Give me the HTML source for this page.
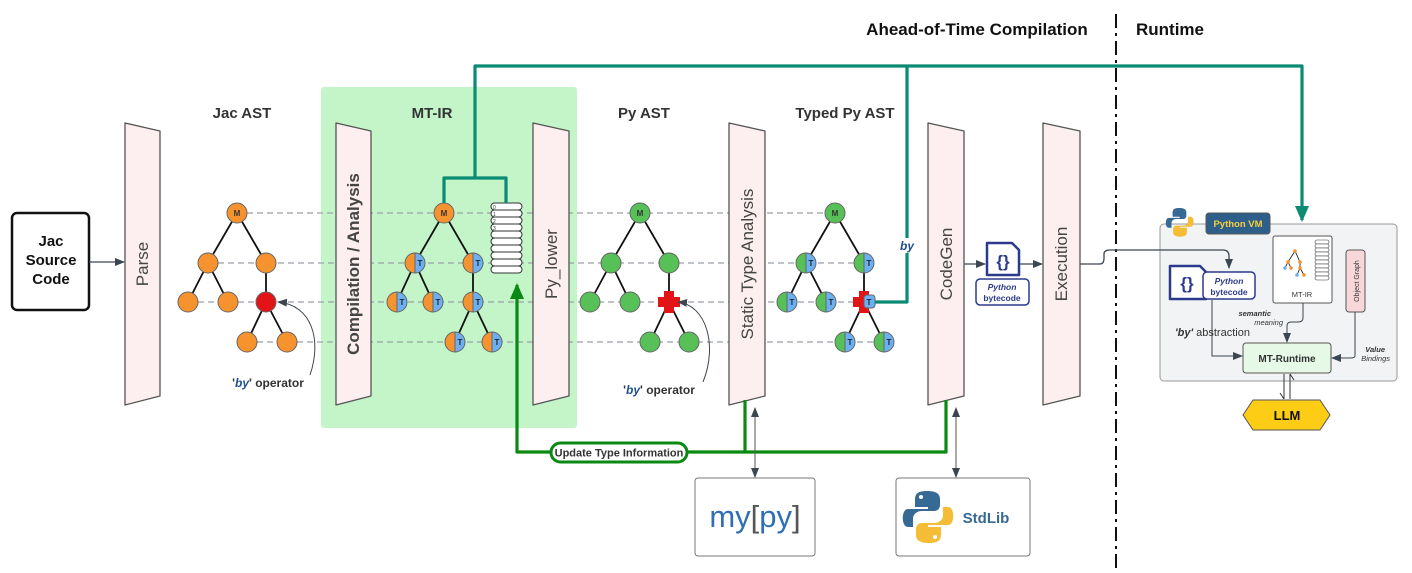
<!DOCTYPE html>
<html><head><meta charset="utf-8"><style>
html,body{margin:0;padding:0;background:#fff}
svg{display:block}
text{font-family:"Liberation Sans",sans-serif}
</style></head><body>
<svg width="1412" height="573" viewBox="0 0 1412 573" xmlns="http://www.w3.org/2000/svg">
<defs>
<marker id="ah" markerWidth="10" markerHeight="8" refX="9" refY="4" orient="auto" markerUnits="userSpaceOnUse"><path d="M0,0L10,4L0,8z" fill="#3c4650"/></marker>
<marker id="ahs" markerWidth="10" markerHeight="8" refX="9" refY="4" orient="auto-start-reverse" markerUnits="userSpaceOnUse"><path d="M0,0L10,4L0,8z" fill="#3c4650"/></marker>
<marker id="ahg" markerWidth="16" markerHeight="14" refX="14" refY="7" orient="auto" markerUnits="userSpaceOnUse"><path d="M0,0L16,7L0,14z" fill="#0a8a12"/></marker>
<marker id="aht" markerWidth="16" markerHeight="14" refX="14" refY="7" orient="auto" markerUnits="userSpaceOnUse"><path d="M0,0L16,7L0,14z" fill="#0b8a74"/></marker>
</defs>

<!-- green region -->
<rect x="321" y="87" width="256" height="341" rx="3" fill="#c3f5c8"/>

<!-- dashed lines -->
<g stroke="#9aa0a8" stroke-width="1.3" stroke-dasharray="6,4">
<line x1="247" y1="213" x2="830" y2="213"/>
<line x1="218" y1="263" x2="860" y2="263"/>
<line x1="188" y1="302" x2="860" y2="302"/>
<line x1="257" y1="342" x2="880" y2="342"/>
</g>

<!-- panels -->
<g fill="#fdefef" stroke="#555" stroke-width="1.3" stroke-linejoin="round">
<path d="M125,123 L160,131 L160,396 L125,405 Z"/>
<path d="M336,123 L371,131 L371,396 L336,405 Z"/>
<path d="M533,123 L569,131 L569,396 L533,405 Z"/>
<path d="M729,123 L765,131 L765,396 L729,405 Z"/>
<path d="M928,123 L964,131 L964,396 L928,405 Z"/>
<path d="M1043,123 L1080,131 L1080,396 L1043,405 Z"/>
</g>
<g fill="#444" font-size="17">
<text transform="translate(148,264) rotate(-90)" text-anchor="middle">Parse</text>
<text transform="translate(359,264) rotate(-90)" text-anchor="middle" font-weight="bold">Compilation / Analysis</text>
<text transform="translate(557,264) rotate(-90)" text-anchor="middle">Py_lower</text>
<text transform="translate(753,264) rotate(-90)" text-anchor="middle">Static Type Analysis</text>
<text transform="translate(952,264) rotate(-90)" text-anchor="middle">CodeGen</text>
<text transform="translate(1067,264) rotate(-90)" text-anchor="middle">Execution</text>
</g>

<!-- headers -->
<g font-weight="bold" fill="#333" font-size="15" text-anchor="middle">
<text x="242" y="118">Jac AST</text>
<text x="432" y="118">MT-IR</text>
<text x="644" y="118">Py AST</text>
<text x="845" y="118">Typed Py AST</text>
<text x="977" y="35" font-size="17" fill="#111">Ahead-of-Time Compilation</text>
<text x="1170" y="35" font-size="17" fill="#111">Runtime</text>
</g>
<line x1="1116" y1="14" x2="1116" y2="573" stroke="#111" stroke-width="2" stroke-dasharray="14,5,3,5"/>

<!-- Jac source -->
<rect x="12" y="213" width="77" height="97" rx="5" fill="#fff" stroke="#111" stroke-width="2.5"/>
<g font-weight="bold" font-size="15" text-anchor="middle" fill="#111">
<text x="51" y="246">Jac</text><text x="51" y="265">Source</text><text x="51" y="284">Code</text></g>
<line x1="89" y1="262" x2="124" y2="262" stroke="#3c4650" stroke-width="1.3" marker-end="url(#ah)"/>

<!-- tree edges -->
<g stroke="#111" stroke-width="1.8" fill="none">
<path d="M237,213L208,263M237,213L266,263M208,263L188,302M208,263L228,302M266,263L266,302M266,302L247,342M266,302L287,342"/>
<path d="M444,213L415,263M444,213L473,263M415,263L397,302M415,263L433,302M473,263L473,302M473,302L455,342M473,302L492,342"/>
<path d="M640,213L611,263M640,213L669,263M611,263L590,302M611,263L630,302M669,263L669,302M669,302L650,342M669,302L689,342"/>
<path d="M835,213L806,263M835,213L864,263M806,263L787,302M806,263L826,302M864,263L864,302M864,302L845,342M864,302L884,342"/>
</g>
<!-- Jac AST nodes -->
<g stroke="#666" stroke-width="1" fill="#f7932e">
<circle cx="237" cy="213" r="10"/><circle cx="208" cy="263" r="10"/><circle cx="266" cy="263" r="10"/>
<circle cx="188" cy="302" r="10"/><circle cx="228" cy="302" r="10"/><circle cx="266" cy="302" r="10" fill="#e31416"/>
<circle cx="247" cy="342" r="10"/><circle cx="287" cy="342" r="10"/>
<circle cx="444" cy="213" r="10"/>
</g>
<!-- Py AST nodes -->
<g stroke="#666" stroke-width="1" fill="#57c157">
<circle cx="640" cy="213" r="10"/><circle cx="611" cy="263" r="10"/><circle cx="669" cy="263" r="10"/>
<circle cx="590" cy="302" r="10"/><circle cx="630" cy="302" r="10"/>
<circle cx="650" cy="342" r="10"/><circle cx="689" cy="342" r="10"/>
<circle cx="835" cy="213" r="10"/>
</g>
<!-- red crosses -->
<g fill="#e31416">
<path d="M664,291h10v6h6v10h-6v6h-10v-6h-6v-10h6z"/>
<path d="M859,291h10v6h6v10h-6v6h-10v-6h-6v-10h6z"/>
</g>
<g font-size="8" font-weight="bold" fill="#333" text-anchor="middle">
<text x="237" y="216">M</text><text x="444" y="216">M</text><text x="640" y="216">M</text><text x="835" y="216">M</text>
</g>
<!-- half nodes orange/blue -->
<g id="halfs" stroke="#666" stroke-width="1">
<g fill="#f7932e">
<path d="M415,253a10,10 0 0 0 0,20z"/><path d="M473,253a10,10 0 0 0 0,20z"/>
<path d="M397,292a10,10 0 0 0 0,20z"/><path d="M433,292a10,10 0 0 0 0,20z"/><path d="M473,292a10,10 0 0 0 0,20z"/>
<path d="M455,332a10,10 0 0 0 0,20z"/><path d="M492,332a10,10 0 0 0 0,20z"/>
</g>
<g fill="#57c157">
<path d="M806,253a10,10 0 0 0 0,20z"/><path d="M864,253a10,10 0 0 0 0,20z"/>
<path d="M787,292a10,10 0 0 0 0,20z"/><path d="M826,292a10,10 0 0 0 0,20z"/>
<path d="M845,332a10,10 0 0 0 0,20z"/><path d="M884,332a10,10 0 0 0 0,20z"/>
</g>
<g fill="#6cb0f2">
<path d="M415,253a10,10 0 0 1 0,20z"/><path d="M473,253a10,10 0 0 1 0,20z"/>
<path d="M397,292a10,10 0 0 1 0,20z"/><path d="M433,292a10,10 0 0 1 0,20z"/><path d="M473,292a10,10 0 0 1 0,20z"/>
<path d="M455,332a10,10 0 0 1 0,20z"/><path d="M492,332a10,10 0 0 1 0,20z"/>
<path d="M806,253a10,10 0 0 1 0,20z"/><path d="M864,253a10,10 0 0 1 0,20z"/>
<path d="M787,292a10,10 0 0 1 0,20z"/><path d="M826,292a10,10 0 0 1 0,20z"/>
<path d="M845,332a10,10 0 0 1 0,20z"/><path d="M884,332a10,10 0 0 1 0,20z"/>
<rect x="864" y="295" width="11" height="13" rx="3"/>
</g>
</g>
<g font-size="8" font-weight="bold" fill="#223" text-anchor="middle">
<text x="420" y="266">T</text><text x="478" y="266">T</text><text x="402" y="305">T</text><text x="438" y="305">T</text><text x="478" y="305">T</text><text x="460" y="345">T</text><text x="497" y="345">T</text>
<text x="811" y="266">T</text><text x="869" y="266">T</text><text x="792" y="305">T</text><text x="831" y="305">T</text><text x="869" y="305">T</text><text x="850" y="345">T</text><text x="889" y="345">T</text>
</g>

<!-- MT-IR list -->
<g fill="#fff" stroke="#333" stroke-width="1">
<rect x="491" y="203" width="31" height="7" rx="3.5"/><rect x="491" y="210" width="31" height="7" rx="3.5"/>
<rect x="491" y="217" width="31" height="7" rx="3.5"/><rect x="491" y="224" width="31" height="7" rx="3.5"/>
<rect x="491" y="231" width="31" height="7" rx="3.5"/><rect x="491" y="238" width="31" height="7" rx="3.5"/>
<rect x="491" y="245" width="31" height="7" rx="3.5"/><rect x="491" y="252" width="31" height="7" rx="3.5"/>
<rect x="491" y="259" width="31" height="7" rx="3.5"/><rect x="491" y="266" width="31" height="7" rx="3.5"/>
</g>
<g font-size="5" fill="#333"><text x="493" y="209">0</text><text x="493" y="216">1</text><text x="493" y="223">2</text><text x="493" y="230">3</text></g>

<!-- by operator labels -->
<text x="268" y="387" font-size="12" font-weight="bold" fill="#333" text-anchor="middle"><tspan fill="#333">'</tspan><tspan fill="#1d4f91" font-style="italic">by</tspan>' operator</text>
<text x="659" y="394" font-size="12" font-weight="bold" fill="#333" text-anchor="middle">'<tspan fill="#1d4f91" font-style="italic">by</tspan>' operator</text>
<path d="M310,375 C322,340 312,305 278,302" fill="none" stroke="#3c4650" stroke-width="1" marker-end="url(#ah)"/>
<path d="M703,382 C718,345 706,305 678,302" fill="none" stroke="#3c4650" stroke-width="1" marker-end="url(#ah)"/>

<!-- teal lines -->
<g fill="none" stroke="#0b8a74" stroke-width="3.2" stroke-linejoin="round">
<path d="M444,203 V178 H506 V203"/>
<path d="M475,178 V66 H1302 V220" marker-end="url(#aht)"/>
<path d="M907,66 V302 H875"/>
</g>
<rect x="898" y="238" width="18" height="15" fill="#fff"/>
<text x="907" y="250" font-size="12" font-weight="bold" font-style="italic" fill="#1d4f91" text-anchor="middle">by</text>

<!-- green update lines -->
<g fill="none" stroke="#0a8a12" stroke-width="3.2" stroke-linejoin="round">
<path d="M946,400 V452 H517 V285" marker-end="url(#ahg)"/>
<path d="M745,400 V452"/>
</g>
<rect x="551" y="443" width="136" height="19" rx="9.5" fill="#fff" stroke="#0a8a12" stroke-width="3"/>
<text x="619" y="456.5" font-size="11" font-weight="bold" fill="#333" text-anchor="middle">Update Type Information</text>

<!-- double arrows to mypy/stdlib -->
<line x1="755" y1="408" x2="755" y2="477" stroke="#555" stroke-width="1" marker-start="url(#ahs)" marker-end="url(#ahs)"/>
<line x1="956" y1="408" x2="956" y2="477" stroke="#555" stroke-width="1" marker-start="url(#ahs)" marker-end="url(#ahs)"/>
<rect x="695" y="478" width="120" height="78" rx="3" fill="#fff" stroke="#777" stroke-width="1"/>
<text x="755" y="527" font-size="31" fill="#2e6fb7" text-anchor="middle">my<tspan fill="#555">[</tspan>py<tspan fill="#555">]</tspan></text>
<rect x="896" y="478" width="134" height="78" rx="3" fill="#fff" stroke="#777" stroke-width="1"/>
<g transform="translate(903,491)">
<path d="M24,0 C12,0 12,5 12,10 V16 H25 V18 H5 C-2,18 -2,36 5,36 H10 V28 C10,23 14,20 19,20 H31 C35,20 37,17 37,14 V8 C37,2 32,0 24,0z" fill="#366994"/>
<path d="M26,52 C38,52 38,47 38,42 V36 H25 V34 H45 C52,34 52,16 45,16 H40 V24 C40,29 36,32 31,32 H19 C15,32 13,35 13,38 V44 C13,50 18,52 26,52z" fill="#f4bd35"/>
<circle cx="18" cy="6" r="2" fill="#fff"/><circle cx="32" cy="46" r="2" fill="#fff"/>
</g>
<text x="986" y="523" font-size="15" font-weight="bold" fill="#366994" text-anchor="middle">StdLib</text>

<!-- bytecode icon -->
<line x1="964" y1="264" x2="985" y2="264" stroke="#3c4650" stroke-width="1.3" marker-end="url(#ah)"/>
<line x1="1020" y1="264" x2="1042" y2="264" stroke="#3c4650" stroke-width="1.3" marker-end="url(#ah)"/>
<path d="M987,243 H1012 L1019,250 V275 H987 Z" fill="#fff" stroke="#2b3a8c" stroke-width="2.5" stroke-linejoin="round"/>
<text x="1003" y="267" font-size="17" font-weight="bold" fill="#2b3a8c" text-anchor="middle" font-family="Liberation Mono">{}</text>
<rect x="976" y="279" width="53" height="26" rx="4" fill="#fff" stroke="#2b3a8c" stroke-width="1.5"/>
<text x="1002" y="290" font-size="8.5" font-style="italic" font-weight="bold" fill="#2b3a8c" text-anchor="middle" font-family="Liberation Mono">Python</text>
<text x="1002" y="301" font-size="8.5" font-weight="bold" fill="#2b3a8c" text-anchor="middle" font-family="Liberation Mono">bytecode</text>

<!-- runtime -->
<rect x="1160" y="224" width="237" height="157" rx="4" fill="#f2f3f5" stroke="#999" stroke-width="1"/>
<path d="M1080,264 H1100 Q1104,264 1104,258 V254 Q1104,250 1110,250 H1223 Q1229,250 1229,256 V268" fill="none" stroke="#3c4650" stroke-width="1.3" marker-end="url(#ah)"/>
<g transform="translate(1166,208) scale(0.55)">
<path d="M24,0 C12,0 12,5 12,10 V16 H25 V18 H5 C-2,18 -2,36 5,36 H10 V28 C10,23 14,20 19,20 H31 C35,20 37,17 37,14 V8 C37,2 32,0 24,0z" fill="#366994"/>
<path d="M26,52 C38,52 38,47 38,42 V36 H25 V34 H45 C52,34 52,16 45,16 H40 V24 C40,29 36,32 31,32 H19 C15,32 13,35 13,38 V44 C13,50 18,52 26,52z" fill="#f4bd35"/>
</g>
<rect x="1206" y="213" width="64" height="21" rx="3" fill="#2e5f8a" stroke="#555" stroke-width="1"/>
<text x="1238" y="227" font-size="9.5" font-weight="bold" fill="#f4d03f" text-anchor="middle" font-family="Liberation Mono">Python VM</text>
<!-- runtime bytecode -->
<path d="M1170,266 H1200 L1206,272 V299 H1170 Z" fill="#fff" stroke="#2b3a8c" stroke-width="2.5" stroke-linejoin="round"/>
<text x="1187" y="289" font-size="17" font-weight="bold" fill="#2b3a8c" text-anchor="middle" font-family="Liberation Mono">{}</text>
<rect x="1203" y="272" width="52" height="27" rx="4" fill="#fff" stroke="#2b3a8c" stroke-width="1.5"/>
<text x="1229" y="284" font-size="8.5" font-style="italic" font-weight="bold" fill="#2b3a8c" text-anchor="middle" font-family="Liberation Mono">Python</text>
<text x="1229" y="295" font-size="8.5" font-weight="bold" fill="#2b3a8c" text-anchor="middle" font-family="Liberation Mono">bytecode</text>
<!-- MT-IR box -->
<rect x="1273" y="236" width="59" height="67" rx="2" fill="#fff" stroke="#555" stroke-width="1"/>
<g stroke="#333" stroke-width="0.6" fill="#fff">
<rect x="1315" y="240" width="14" height="4" rx="2"/><rect x="1315" y="244" width="14" height="4" rx="2"/><rect x="1315" y="248" width="14" height="4" rx="2"/><rect x="1315" y="252" width="14" height="4" rx="2"/><rect x="1315" y="256" width="14" height="4" rx="2"/><rect x="1315" y="260" width="14" height="4" rx="2"/><rect x="1315" y="264" width="14" height="4" rx="2"/><rect x="1315" y="268" width="14" height="4" rx="2"/><rect x="1315" y="272" width="14" height="4" rx="2"/><rect x="1315" y="276" width="14" height="4" rx="2"/>
</g>
<path d="M1295,251 L1288,262 M1295,251 L1300,262 M1288,262 L1285,268 M1288,262 L1291,268 M1300,262 L1300,268 M1300,268 L1297,275 M1300,268 L1304,275" stroke="#111" stroke-width="0.8" fill="none"/>
<g fill="#f7932e"><circle cx="1295" cy="251" r="1.8"/><circle cx="1288" cy="262" r="1.8"/><circle cx="1300" cy="262" r="1.8"/><circle cx="1285" cy="268" r="1.8" fill="#6cb0f2"/><circle cx="1291" cy="268" r="1.8"/><circle cx="1300" cy="268" r="1.8"/><circle cx="1297" cy="275" r="1.8" fill="#6cb0f2"/><circle cx="1304" cy="275" r="1.8"/></g>
<text x="1302" y="297" font-size="7.5" fill="#333" text-anchor="middle">MT-IR</text>
<!-- object graph -->
<rect x="1346" y="250" width="19" height="62" rx="3" fill="#f8d7d9" stroke="#555" stroke-width="1"/>
<text transform="translate(1359,281) rotate(-90)" font-size="7" fill="#333" text-anchor="middle">Object Graph</text>
<!-- MT-Runtime -->
<rect x="1243" y="343" width="88" height="30" rx="3" fill="#e6f8e6" stroke="#555" stroke-width="1"/>
<text x="1287" y="362" font-size="10" font-weight="bold" fill="#333" text-anchor="middle">MT-Runtime</text>
<path d="M1212,300 V356 H1242" fill="none" stroke="#3c4650" stroke-width="1" marker-end="url(#ah)"/>
<path d="M1303,303 V318 Q1303,322 1298,322 H1291 Q1287,322 1287,326 V342" fill="none" stroke="#3c4650" stroke-width="1" marker-end="url(#ah)"/>
<path d="M1355,312 V356 Q1355,358 1350,358 H1332" fill="none" stroke="#3c4650" stroke-width="1" marker-end="url(#ah)"/>
<text x="1175" y="336" font-size="11" fill="#333"><tspan font-weight="bold" font-style="italic">'by'</tspan> abstraction</text>
<text x="1271" y="316" font-size="7.5" font-weight="bold" font-style="italic" fill="#333" text-anchor="end">semantic</text>
<text x="1283" y="325" font-size="7.5" font-style="italic" fill="#333" text-anchor="end">meaning</text>
<text x="1385" y="352" font-size="7.5" font-weight="bold" font-style="italic" fill="#333" text-anchor="end">Value</text>
<text x="1390" y="361" font-size="7.5" font-style="italic" fill="#333" text-anchor="end">Bindings</text>
<!-- LLM -->
<line x1="1284" y1="374" x2="1284" y2="399" stroke="#333" stroke-width="1"/>
<line x1="1290" y1="374" x2="1290" y2="399" stroke="#333" stroke-width="1"/>
<path d="M1280,393 L1284,399 M1294,380 L1290,374" stroke="#333" stroke-width="1"/>
<path d="M1253,400 H1320 L1330,415 L1320,430 H1253 L1243,415 Z" fill="#fccd14" stroke="#555" stroke-width="1"/>
<text x="1287" y="420" font-size="13" font-weight="bold" fill="#111" text-anchor="middle">LLM</text>
</svg>
</body></html>
